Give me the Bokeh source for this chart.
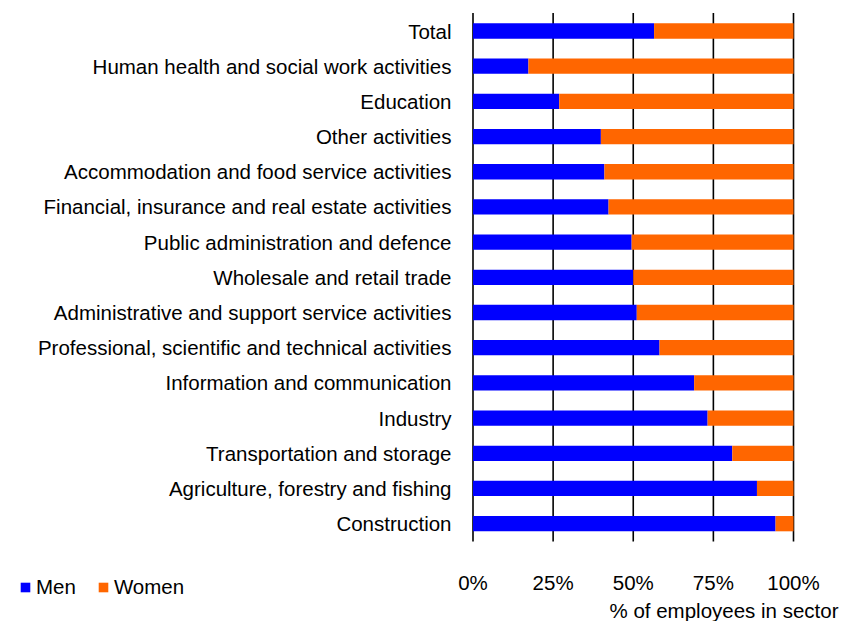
from bokeh.plotting import figure
from bokeh.models import Legend, LegendItem, Range1d
from bokeh.core.properties import value
from bokeh.embed import file_html
from bokeh.resources import INLINE

categories = [
    "Total",
    "Human health and social work activities",
    "Education",
    "Other activities",
    "Accommodation and food service activities",
    "Financial, insurance and real estate activities",
    "Public administration and defence",
    "Wholesale and retail trade",
    "Administrative and support service activities",
    "Professional, scientific and technical activities",
    "Information and communication",
    "Industry",
    "Transportation and storage",
    "Agriculture, forestry and fishing",
    "Construction",
]
men = [56.5, 17.3, 26.9, 39.9, 41.0, 42.3, 49.5, 50.0, 51.1, 58.2, 69.0, 73.2, 80.9, 88.6, 94.4]
women = [43.5, 82.7, 73.1, 60.1, 59.0, 57.7, 50.5, 50.0, 48.9, 41.8, 31.0, 26.8, 19.1, 11.4, 5.6]
tick_values = [0, 25, 50, 75, 100]
tick_labels = ["0%", "25%", "50%", "75%", "100%"]
axis_title = "% of employees in sector"

FONT_NAME = "Liberation Sans"
FS_STR = "20.5px"
FONT = value(FONT_NAME)
FS = value(FS_STR)

# page layout (pixels) -> data coordinates
W, H = 841, 621
X0, XS = 472.5, 3.205     # x pixel of 0 %, pixels per %
Y0, YS = 30.5, 35.19      # y pixel of first category, pixels per category


def dx(px):
    return (px - X0) / XS


def dy(px):
    return (px - Y0) / YS


p = figure(width=W, height=H, x_range=Range1d(dx(0), dx(W)), y_range=Range1d(dy(H), dy(0)),
           x_axis_type=None, y_axis_type=None, output_backend="svg", toolbar_location=None,
           min_border=0)
p.outline_line_color = None
p.background_fill_color = "white"

n = len(categories)
idx = list(range(n))

# vertical gridlines
p.segment(x0=tick_values, y0=[dy(12.5)] * len(tick_values), x1=tick_values,
          y1=[dy(541)] * len(tick_values), line_color="black", line_width=1.6)

src = dict(y=idx, Men=men, Women=women)
rs = p.hbar_stack(["Men", "Women"], y="y", height=15.3 / YS, color=["#0000FF", "#FF6600"],
                  line_color=None, source=src)

# category labels
p.text(x=[dx(451)] * n, y=idx, text=categories, text_align="right",
       text_baseline="middle", text_font=FONT, text_font_size=FS, text_color="black")

# tick labels
p.text(x=tick_values, y=[dy(581.5)] * len(tick_values), text=tick_labels, text_align="center",
       text_baseline="middle", text_font=FONT, text_font_size=FS, text_color="black")

# axis title
p.text(x=[dx(838)], y=[dy(609.5)], text=[axis_title], text_align="right",
       text_baseline="middle", text_font=FONT, text_font_size=FS, text_color="black")

legend = Legend(items=[LegendItem(label="Men", renderers=[rs[0]]),
                       LegendItem(label="Women", renderers=[rs[1]])],
                location=(19, 22), orientation="horizontal",
                glyph_width=12, glyph_height=12, padding=0, margin=0, spacing=21,
                label_standoff=5, label_text_font=FONT_NAME, label_text_font_size=FS_STR,
                label_text_color="black",
                border_line_color=None, background_fill_alpha=0)
p.add_layout(legend, "center")

open("out.html", "w").write(file_html(p, INLINE))
